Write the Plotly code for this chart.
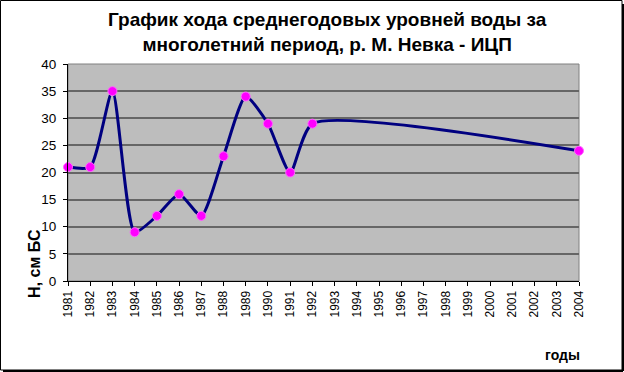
import plotly.graph_objects as go

years = [1981, 1982, 1983, 1984, 1985, 1986, 1987, 1988, 1989, 1990, 1991, 1992, 2004]
levels = [21, 21, 35, 9, 12, 16, 12, 23, 34, 29, 20, 29, 24]
tick_years = list(range(1981, 2005))
y_ticks = list(range(0, 45, 5))

title_text = "График хода среднегодовых уровней воды за<br>многолетний период, р. М. Невка - ИЦП"
y_title = "Н, см БС"
x_title = "годы"

fig = go.Figure()
fig.add_trace(go.Scatter(
    x=years, y=levels, mode="lines+markers",
    line=dict(color="#000080", width=3, shape="spline", smoothing=0.6),
    marker=dict(color="#ff00ff", size=9, line=dict(color="#ff66ff", width=1)),
    cliponaxis=False, showlegend=False,
))

fig.update_layout(
    width=624, height=372,
    margin=dict(l=68, r=45, t=64, b=91),
    paper_bgcolor="white",
    plot_bgcolor="#bdbdbd",
    font=dict(family="Liberation Sans, Arial, sans-serif", color="black", size=11),
    xaxis=dict(range=[1981, 2004], tickvals=tick_years, ticktext=[str(y) for y in tick_years],
               tickangle=-90, showgrid=False, zeroline=False,
               showline=True, linecolor="black", linewidth=1,
               ticks="outside", ticklen=4, tickcolor="black",
               tickfont=dict(size=12)),
    yaxis=dict(range=[0, 40], tickvals=y_ticks, showgrid=True, gridcolor="#666666", gridwidth=1.5,
               zeroline=False, showline=True, linecolor="black", linewidth=1,
               ticks="outside", ticklen=4, tickcolor="black", ticklabelstandoff=4,
               tickfont=dict(size=13.5)),
    annotations=[
        dict(text="<b>" + title_text + "</b>", xref="paper", yref="paper",
             x=(327 - 68) / 511, y=1 + (64 - 7) / 217, xanchor="center", yanchor="top",
             showarrow=False, align="center",
             font=dict(size=19, family="Liberation Sans, Arial, sans-serif")),
        dict(text="<b>" + y_title + "</b>", textangle=-90, xref="paper", yref="paper",
             x=-0.066, y=0.08, xanchor="center", yanchor="middle", showarrow=False,
             font=dict(size=16)),
        dict(text="<b>" + x_title + "</b>", xref="paper", yref="paper",
             x=0.968, y=-0.34, xanchor="center", yanchor="middle", showarrow=False,
             font=dict(size=14)),
    ],
    shapes=[
        dict(type="rect", xref="paper", yref="paper", x0=0, x1=1, y0=0, y1=1,
             line=dict(color="#808080", width=1), layer="below"),
        dict(type="rect", xref="paper", yref="paper",
             x0=-67.5/511, x1=1 + 43/511, y0=-89/217, y1=1 + 63.5/217,
             line=dict(color="black", width=1)),
        dict(type="line", xref="paper", yref="paper",
             x0=1 + 44/511, x1=1 + 44/511, y0=-90/217, y1=1 + 60/217,
             line=dict(color="black", width=2)),
        dict(type="line", xref="paper", yref="paper",
             x0=-65/511, x1=1 + 44/511, y0=-90/217, y1=-90/217,
             line=dict(color="black", width=2)),
    ],
)

fig.write_html("out.html", post_script="document.body.style.margin='0';",
               config={"displayModeBar": False})
